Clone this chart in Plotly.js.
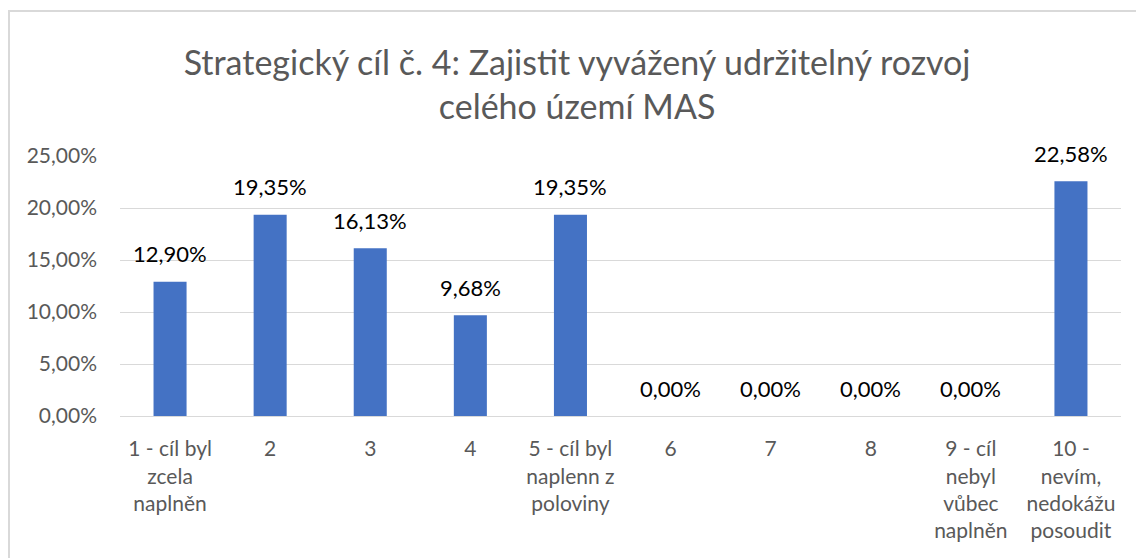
<!DOCTYPE html>
<html>
<head>
<meta charset="utf-8">
<script src="https://cdn.plot.ly/plotly-3.0.1.min.js"></script>
<style>
html,body{margin:0;padding:0;background:#fff;}
#frame{position:absolute;left:8px;top:10px;width:1140px;height:560px;border:2px solid #d9d9d9;box-sizing:border-box;}
#chart{position:absolute;left:0;top:0;width:1136px;height:558px;}
</style>
</head>
<body>
<div id="frame"></div>
<div id="chart"></div>
<script>
const categories = [
  "1 - cíl byl<br>zcela<br>naplněn",
  "2",
  "3",
  "4",
  "5 - cíl byl<br>naplenn z<br>poloviny",
  "6",
  "7",
  "8",
  "9 - cíl<br>nebyl<br>vůbec<br>naplněn",
  "10 -<br>nevím,<br>nedokážu<br>posoudit"
];
const values = [0.1290, 0.1935, 0.1613, 0.0968, 0.1935, 0, 0, 0, 0, 0.2258];
const yTicks = [0, 0.05, 0.10, 0.15, 0.20, 0.25];
const titleText = "Strategický cíl č. 4: Zajistit vyvážený udržitelný rozvoj<br>celého území MAS";

const FONT = "Lato, 'Open Sans', sans-serif";

const trace = {
  type: 'bar',
  x: categories,
  y: values,
  marker: {color: '#4472C4'},
  hoverinfo: 'none'
};

const labelAnnotations = categories.map((c, i) => ({
  x: i,
  y: values[i],
  xref: 'x',
  yref: 'y',
  text: (values[i] * 100).toFixed(2).replace('.', ',') + '%',
  showarrow: false,
  yanchor: 'middle',
  xanchor: 'center',
  yshift: 28,
  font: {family: FONT, size: 22, color: '#000000'}
}));

const layout = {
  width: 1136,
  height: 558,
  separators: ', ',
  paper_bgcolor: 'rgba(0,0,0,0)',
  plot_bgcolor: 'rgba(0,0,0,0)',
  margin: {l: 120, r: 15, t: 156, b: 142},
  bargap: 0.67,
  showlegend: false,
  annotations: labelAnnotations,
  title: {
    text: titleText,
    font: {family: FONT, size: 34, color: '#595959'},
    x: 0.508,
    xanchor: 'center',
    xref: 'container',
    yref: 'container',
    y: 0.866,
    yanchor: 'top'
  },
  xaxis: {
    type: 'category',
    tickfont: {family: FONT, size: 21, color: '#595959'},
    ticks: '',
    showline: true,
    linecolor: '#d9d9d9',
    linewidth: 1,
    showgrid: false,
    ticklabelstandoff: 14,
    fixedrange: true
  },
  yaxis: {
    range: [0, 0.25],
    tickvals: yTicks,
    tickformat: '.2%',
    tickfont: {family: FONT, size: 21, color: '#595959'},
    ticks: '',
    showgrid: true,
    gridcolor: '#d9d9d9',
    gridwidth: 1,
    zeroline: false,
    showline: false,
    ticklabelstandoff: 22,
    fixedrange: true
  }
};

Plotly.newPlot('chart', [trace], layout, {displayModeBar: false, staticPlot: true});
</script>
</body>
</html>
